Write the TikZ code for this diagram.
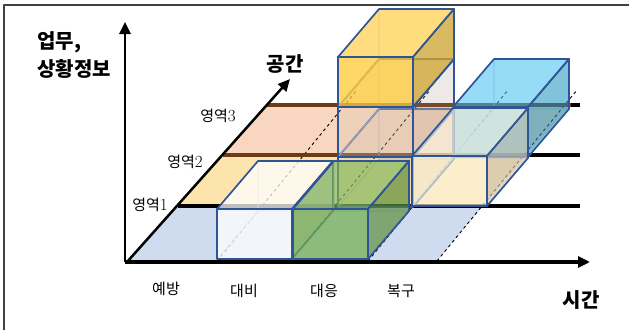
\documentclass[tikz,border=0pt]{standalone}
\usepackage{fontspec}
\newfontfamily\kor{Noto Sans CJK KR}
\usetikzlibrary{arrows.meta}

\definecolor{boxedge}{HTML}{2F5597}
\definecolor{bandblue}{HTML}{CFDBEF}
\definecolor{bandyellow}{HTML}{FCE4AC}
\definecolor{bandsalmon}{HTML}{F9D6C0}
\definecolor{bandbrown}{HTML}{6E3A17}
\definecolor{boxgreen}{HTML}{6AAB3E}
\definecolor{boxyellow}{HTML}{FFC72C}
\definecolor{boxcyan}{HTML}{1FB5EE}
\definecolor{boxcream}{HTML}{FDF3DC}
\definecolor{boxwhite}{HTML}{FFFFFF}
\definecolor{boxclear}{HTML}{C9B8A0}
\definecolor{framegray}{HTML}{404040}

\begin{document}
\begin{tikzpicture}[x=1pt, y=-1pt, line join=round,
  axis/.style={line width=2.5pt, -{Triangle[length=12pt,width=11pt]}},
  layerline/.style={line width=3.4pt},
  gridline/.style={dash pattern=on 3pt off 3pt, line width=0.9pt},
  boxline/.style={boxedge, line width=1.7pt},
  hiddenline/.style={boxedge!45, line width=0.8pt},
  bigtext/.style={font=\kor\bfseries\fontsize{20}{24}\selectfont, inner sep=0pt},
  smalltext/.style={font=\kor\fontsize{15}{17}\selectfont, inner sep=0pt}]

\useasboundingbox (0,0) rectangle (629,330);

% frame
\draw[framegray, line width=1.5pt] (4,330) -- (4,5) -- (629,5);

% floor: one band per region
\fill[bandblue] (128,261) -- (437,261) -- (483,206) -- (178,206) -- cycle;
\fill[bandyellow] (178,206) -- (483,206) -- (526,155) -- (223,155) -- cycle;
\fill[bandsalmon] (223,155) -- (526,155) -- (571,105) -- (267,105) -- cycle;

% phase borders running into depth
\foreach \gx in {217,290,368,437}
  \draw[gridline] (\gx,261) -- ++(140,-171);

% region lines
\foreach \lx/\ly in {178/206, 223/155, 267/105}
  \draw[layerline] (\lx,\ly) -- (580,\ly);
\draw[layerline, bandbrown] (223,155) -- (526,155);
\draw[layerline, bandbrown] (267,105) -- (571,105);

% axes
\coordinate (o) at (125,262);
\coordinate (infotip) at (125,22);
\coordinate (timetip) at (590,262);
\coordinate (spacetip) at (290,79);
\draw[axis] (o) -- (infotip);
\draw[axis, line width=3.2pt] (o) -- (timetip);
\draw[axis] ([xshift=2pt]o) -- (spacetip);

% cubes: front-bottom-left x/y, colour, opacity
\foreach \bx/\by/\bc/\bo in {453/157/boxcyan/0.55, 338/207/boxclear/0.2, 338/157/boxclear/0.2,
    338/107/boxyellow/0.72, 412/206/boxcream/0.65, 217/259/boxwhite/0.75, 293/259/boxgreen/0.65} {
  \draw[hiddenline] (\bx+41,\by-48) -- ++(75,0) (\bx+41,\by-48) -- ++(0,-50) (\bx+41,\by-48) -- (\bx,\by);
  \filldraw[boxline, fill=\bc, fill opacity=\bo] (\bx,\by) rectangle ++(75,-50);
  \filldraw[boxline, fill=\bc!85!white, fill opacity=\bo] (\bx,\by-50) -- ++(75,0) -- ++(41,-48) -- ++(-75,0) -- cycle;
  \filldraw[boxline, fill=\bc!80!black, fill opacity=\bo] (\bx+75,\by) -- ++(41,-48) -- ++(0,-50) -- ++(-41,48) -- cycle;
}

% axis titles
\node[bigtext, anchor=west] (info1) at (37,42) {업무,};
\node[bigtext, anchor=west] (info2) at (37,69) {상황정보};
\node[bigtext] (space) at (285,64) {공간};
\node[bigtext] (time) at (581,300) {시간};

% regions
\node[smalltext] (zone1) at (150,205) {영역{\rmfamily\fontsize{17}{17}\selectfont 1}};
\node[smalltext] (zone2) at (185,162) {영역{\rmfamily\fontsize{17}{17}\selectfont 2}};
\node[smalltext] (zone3) at (218,116) {영역{\rmfamily\fontsize{17}{17}\selectfont 3}};

% phases
\node[smalltext] (prevent) at (166,289) {예방};
\node[smalltext] (prepare) at (244,291) {대비};
\node[smalltext] (respond) at (324,291) {대응};
\node[smalltext] (recover) at (401,291) {복구};

\end{tikzpicture}
\end{document}
